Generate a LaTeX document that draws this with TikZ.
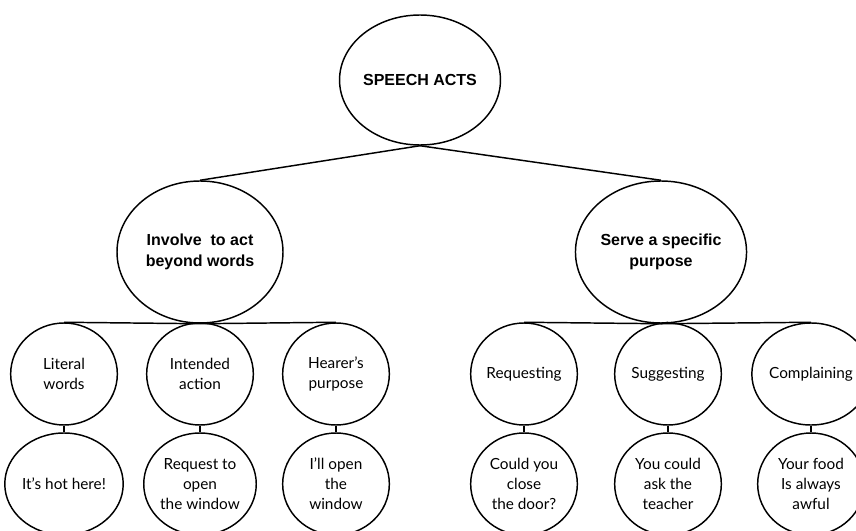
\documentclass[tikz,border=0pt]{standalone}
\usepackage{fontspec}
\setmainfont{Lato}
\newfontfamily\headfont{Liberation Sans}
\usetikzlibrary{shapes.geometric}

\tikzset{every picture/.style={line width=1.1pt}}
\tikzset{
  headbub/.style={draw, ellipse, align=center, inner sep=0pt, font=\headfont\bfseries\fontsize{12}{16}\selectfont},
  leafbub/.style={draw, ellipse, align=center, inner sep=0pt, minimum width=80pt, minimum height=76.5pt, font=\fontsize{11.5}{15}\selectfont}
}

\begin{document}
\begin{tikzpicture}[x=0.75pt,y=0.75pt,yscale=-1,xscale=1]
		\useasboundingbox (0,0) rectangle (856,531);
		\clip (0,0) rectangle (856,531);
		
		%Shape: Ellipse [root]
		\node [headbub, minimum width=115.5pt, minimum height=97.5pt] (acts) at (420,80) {SPEECH ACTS};
		%Shape: Ellipse [second row]
		\node [headbub, minimum width=124.5pt, minimum height=106.5pt] (beyond) at (200,252) {Involve\ \ to act\\beyond words};
		\node [headbub, minimum width=124.5pt, minimum height=106.5pt] (purpose) at (661,252) {Serve a specific\\purpose};
		
		%Shape: Circle [third row]
		\node [leafbub] (literal) at (64,374) {Literal\\words};
		\node [leafbub] (intended) at (200,374) {Intended\\action};
		\node [leafbub] (hearer) at (336,374) {Hearer’s\\purpose};
		\node [leafbub] (request) at (524,374) {Requesting};
		\node [leafbub] (suggest) at (668,374) {Suggesting};
		\node [leafbub] (complain) at (811,374) {Complaining};
		
		%Shape: Circle [examples]
		\node [leafbub] (hot) at (64,484) {It’s hot here!};
		\node [leafbub] (window) at (200,484) {Request to\\open\\the window};
		\node [leafbub] (illopen) at (336,484) {I’ll open\\the\\window};
		\node [leafbub] (door) at (524,484) {Could you\\close\\the door?};
		\node [leafbub] (teacher) at (668,484) {You could\\ask the\\teacher};
		\node [leafbub] (food) at (811,484) {Your food\\Is always\\awful};
		
		\draw (acts.south) -- (beyond.north) ;
		\draw (acts.south) -- (purpose.north) ;
		\draw (beyond.south) -- (literal.north) ;
		\draw (beyond.south) -- (intended.north) ;
		\draw (beyond.south) -- (hearer.north) ;
		\draw (purpose.south) -- (request.north) ;
		\draw (purpose.south) -- (suggest.north) ;
		\draw (purpose.south) -- (complain.north) ;
		\draw (literal) -- (hot) ;
		\draw (intended) -- (window) ;
		\draw (hearer) -- (illopen) ;
		\draw (request) -- (door) ;
		\draw (suggest) -- (teacher) ;
		\draw (complain) -- (food) ;
		
	\end{tikzpicture}
\end{document}
